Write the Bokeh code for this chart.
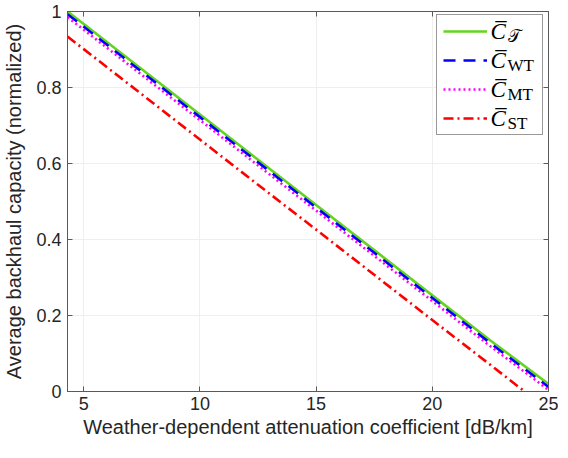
from bokeh.plotting import figure
from bokeh.models import (Range1d, LinearAxis, FixedTicker, Legend, LegendItem, Label, BoxAnnotation)
from bokeh.embed import file_html
from bokeh.resources import INLINE

# ---- data ----
x_vals = [4.3, 5, 7.5, 10, 12.5, 15, 17.5, 20, 22.5, 25]
c_T  = [1.000, 0.967, 0.848, 0.729, 0.610, 0.491, 0.372, 0.253, 0.134, 0.020]
c_WT = [0.993, 0.960, 0.841, 0.722, 0.603, 0.484, 0.365, 0.246, 0.127, 0.012]
c_MT = [0.985, 0.952, 0.833, 0.714, 0.595, 0.476, 0.357, 0.238, 0.119, 0.004]
c_ST = [0.934, 0.901, 0.782, 0.663, 0.544, 0.426, 0.307, 0.188, 0.070, -0.049]

x_ticks = [5, 10, 15, 20, 25]
y_ticks = [0, 0.2, 0.4, 0.6, 0.8, 1.0]
y_tick_labels = ["0", "0.2", "0.4", "0.6", "0.8", "1"]
legend_main = ["C\u0305", "C\u0305", "C\u0305", "C\u0305"]
legend_sub = ["\U0001D4AF", "WT", "MT", "ST"]

FW, FH = 481, 380
BT, BB, BL, BR = 11, 51, 61, 10
p = figure(frame_width=FW, frame_height=FH, output_backend="svg", toolbar_location=None,
           x_range=Range1d(4.3, 25), y_range=Range1d(0, 1),
           min_border_left=BL, min_border_right=BR, min_border_top=BT, min_border_bottom=BB)
p.background_fill_color = "white"
p.border_fill_color = "white"
p.outline_line_color = "#5a5a5a"
p.outline_line_width = 1

text_color = "#262626"
for ax in (p.xaxis[0], p.yaxis[0]):
    ax.axis_line_color = "#5a5a5a"
    ax.major_tick_line_color = "#5a5a5a"
    ax.major_tick_in = 5
    ax.major_tick_out = 0
    ax.minor_tick_line_color = None
    ax.major_label_text_font = "Liberation Sans"
    ax.major_label_text_font_size = "18px"
    ax.major_label_text_color = text_color
    ax.axis_label_text_font = "Liberation Sans"
    ax.axis_label_text_font_size = "20px"
    ax.axis_label_text_font_style = "normal"
    ax.axis_label_text_color = text_color

p.xaxis[0].ticker = FixedTicker(ticks=x_ticks)
p.yaxis[0].ticker = FixedTicker(ticks=y_ticks)
p.yaxis[0].major_label_overrides = {t: l for t, l in zip(y_ticks, y_tick_labels)}
p.xaxis[0].axis_label = "Weather-dependent attenuation coefficient [dB/km]"
p.yaxis[0].axis_label = "Average backhaul capacity (normalized)"
p.xaxis[0].major_label_standoff = 5
p.yaxis[0].major_label_standoff = 6
p.xaxis[0].axis_label_standoff = 3
p.yaxis[0].axis_label_standoff = 8

# top / right box axes with inward ticks (no labels)
top = LinearAxis(ticker=FixedTicker(ticks=x_ticks),
                 major_label_overrides={t: "" for t in x_ticks}, major_label_standoff=0,
                 major_tick_in=5, major_tick_out=0, minor_tick_line_color=None,
                 axis_line_color="#5a5a5a", major_tick_line_color="#5a5a5a")
right = LinearAxis(ticker=FixedTicker(ticks=y_ticks),
                   major_label_overrides={t: "" for t in y_ticks}, major_label_standoff=0,
                   major_tick_in=5, major_tick_out=0, minor_tick_line_color=None,
                   axis_line_color="#5a5a5a", major_tick_line_color="#5a5a5a")
p.add_layout(top, "above")
p.add_layout(right, "right")

p.xgrid.ticker = FixedTicker(ticks=x_ticks)
p.ygrid.ticker = FixedTicker(ticks=y_ticks)
p.grid.grid_line_color = "#efefef"
p.grid.grid_line_width = 1

r1 = p.line(x_vals, c_T, line_color="#64d41e", line_width=2.6)
r2 = p.line(x_vals, c_WT, line_color="#0000ff", line_width=2.6, line_dash="12 8")
r3 = p.line(x_vals, c_MT, line_color="#ff00ff", line_width=2.6, line_dash="2 3")
r4 = p.line(x_vals, c_ST, line_color="#ff0000", line_width=2.6, line_dash="10 4 2 4")

# legend geometry (screen px, from the frame's bottom-left)
LWID, LHGT, PAD, SPC, ITEM = 105, 119, 6, 9, 20
L_LEFT = FW - 7 - LWID
L_TOP = FH - 5
L_BOT = L_TOP - LHGT

box = BoxAnnotation(left=L_LEFT, right=L_LEFT + LWID, top=L_TOP, bottom=L_BOT,
                    left_units="screen", right_units="screen", top_units="screen",
                    bottom_units="screen", fill_color="white", fill_alpha=1.0,
                    line_color=None, level="underlay")
p.add_layout(box)

legend = Legend(items=[LegendItem(label=" ", renderers=[r]) for r in (r1, r2, r3, r4)],
                location=(L_LEFT, L_BOT), margin=0, padding=PAD, spacing=SPC,
                glyph_width=44, glyph_height=ITEM, label_height=ITEM, label_width=45,
                label_standoff=4, border_line_color="#333333", border_line_width=1,
                background_fill_alpha=0.0)
p.add_layout(legend)

# legend texts
x0 = L_LEFT + PAD + 44 + 4
for i, (m, s) in enumerate(zip(legend_main, legend_sub)):
    yc = L_TOP - PAD - ITEM / 2 - i * (ITEM + SPC)
    p.add_layout(Label(x=x0, y=yc + 1, x_units="screen", y_units="screen", text=m,
                       text_font="Liberation Serif", text_font_style="italic",
                       text_font_size="23px", text_color="black",
                       text_baseline="middle", level="overlay"))
    p.add_layout(Label(x=x0 + 17, y=yc - 4, x_units="screen", y_units="screen", text=s,
                       text_font="Liberation Serif", text_font_size="17px",
                       text_color="black", text_baseline="middle", level="overlay"))

open("out.html", "w").write(file_html(p, INLINE))
